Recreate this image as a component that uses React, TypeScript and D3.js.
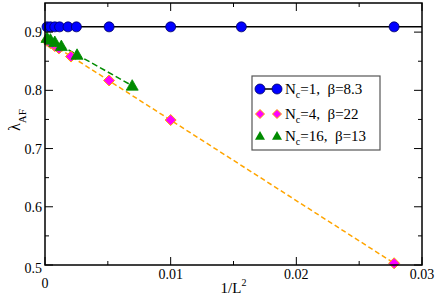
import * as d3 from "d3";

// 1/L^2 values and order parameter for each series
const circleX = [0.00016, 0.00043, 0.00078, 0.00116, 0.00183, 0.0025, 0.0051, 0.01, 0.015625, 0.02778];
const circleY = [0.909, 0.909, 0.909, 0.909, 0.909, 0.909, 0.909, 0.909, 0.909, 0.909];
const diamondX = [0.00016, 0.00043, 0.00078, 0.00111, 0.00207, 0.0051, 0.01, 0.02778];
const diamondY = [0.885, 0.881, 0.876, 0.872, 0.858, 0.817, 0.749, 0.503];
const triangleX = [0.00016, 0.00043, 0.00078, 0.0013, 0.00255, 0.00694];
const triangleY = [0.89, 0.887, 0.883, 0.876, 0.861, 0.808];

// fit lines (x, y pairs)
const fitCircle: [number, number][] = [[0, 0.909], [0.03, 0.909]];
const fitDiamond: [number, number][] = [[0, 0.887], [0.02778, 0.503]];
const fitTriangle: [number, number][] = [[0, 0.892], [0.00694, 0.808]];

const xMajor = [0, 0.01, 0.02, 0.03];
const xMinor = [0.005, 0.015, 0.025];
const yMajor = [0.5, 0.6, 0.7, 0.8, 0.9];
const yMinor = [0.55, 0.65, 0.75, 0.85];

const legendLabels = [
  { n: "1", b: "8.3" },
  { n: "4", b: "22" },
  { n: "16", b: "13" },
];

const W = 436;
const H = 303;
const margin = { top: 3, right: 14, bottom: 38, left: 45 };
const FONT = "Liberation Serif, Times New Roman, Times, Tinos, Nimbus Roman, DejaVu Serif, serif";

export default function App() {
  const x = d3.scaleLinear().domain([0, 0.03]).range([margin.left, W - margin.right]);
  const y = d3.scaleLinear().domain([0.5, 0.95]).range([H - margin.bottom, margin.top]);
  const line = d3.line<[number, number]>().x(d => x(d[0])).y(d => y(d[1]));

  const x0 = x.range()[0], x1 = x.range()[1];
  const y0 = y.range()[0], y1 = y.range()[1];

  const diamond = (cx: number, cy: number, r = 5.5) =>
    `M${cx},${cy - r}L${cx + r},${cy}L${cx},${cy + r}L${cx - r},${cy}Z`;
  const tri = (cx: number, cy: number, r = 6) =>
    `M${cx},${cy - r}L${cx + r},${cy + r * 0.75}L${cx - r},${cy + r * 0.75}Z`;

  const lx = 252, ly = 76, lw = 128, lh = 74;
  const rows = [89, 114, 136];

  return (
    <div style={{ position: "absolute", left: 0, top: 0 }}>
      <svg width={W} height={H} style={{ display: "block", background: "#fff", fontFamily: FONT }}>
        {/* fit lines */}
        <path d={line(fitCircle) || ""} stroke="#000" strokeWidth={1.5} fill="none" />
        <path d={line(fitDiamond) || ""} stroke="#ffa500" strokeWidth={1.5} strokeDasharray="5,3" fill="none" />
        <path d={line(fitTriangle) || ""} stroke="#008b00" strokeWidth={1.5} strokeDasharray="6,3" fill="none" />

        {/* markers */}
        {circleX.map((v, i) => (
          <circle key={"c" + i} cx={x(v)} cy={y(circleY[i])} r={5} fill="#0000ff" stroke="#000060" strokeWidth={0.8} />
        ))}
        {diamondX.map((v, i) => (
          <path key={"d" + i} d={diamond(x(v), y(diamondY[i]))} fill="#ff00ff" stroke="#ffa500" strokeWidth={1} />
        ))}
        {triangleX.map((v, i) => (
          <path key={"t" + i} d={tri(x(v), y(triangleY[i]))} fill="#008b00" stroke="#008b00" strokeWidth={0.8} />
        ))}

        {/* frame */}
        <rect x={x0} y={y1} width={x1 - x0} height={y0 - y1} fill="none" stroke="#000" strokeWidth={1.5} />

        {/* x ticks */}
        {xMajor.map(v => (
          <g key={"xm" + v}>
            <line x1={x(v)} x2={x(v)} y1={y0} y2={y0 - 8} stroke="#000" />
            <line x1={x(v)} x2={x(v)} y1={y1} y2={y1 + 8} stroke="#000" />
            <text x={x(v)} y={v === 0 ? y0 + 23 : y0 + 14} textAnchor="middle" fontSize={14}>
              {v === 0 ? "0" : d3.format(".2f")(v)}
            </text>
          </g>
        ))}
        {xMinor.map(v => (
          <g key={"xn" + v}>
            <line x1={x(v)} x2={x(v)} y1={y0} y2={y0 - 4} stroke="#000" />
            <line x1={x(v)} x2={x(v)} y1={y1} y2={y1 + 4} stroke="#000" />
          </g>
        ))}

        {/* y ticks */}
        {yMajor.map(v => (
          <g key={"ym" + v}>
            <line x1={x0} x2={x0 + 8} y1={y(v)} y2={y(v)} stroke="#000" />
            <line x1={x1} x2={x1 - 8} y1={y(v)} y2={y(v)} stroke="#000" />
            <text x={x0 - 3} y={y(v) + (v === 0.5 ? 8 : 5)} textAnchor="end" fontSize={14}>
              {d3.format(".1f")(v)}
            </text>
          </g>
        ))}
        {yMinor.map(v => (
          <g key={"yn" + v}>
            <line x1={x0} x2={x0 + 4} y1={y(v)} y2={y(v)} stroke="#000" />
            <line x1={x1} x2={x1 - 4} y1={y(v)} y2={y(v)} stroke="#000" />
          </g>
        ))}

        {/* axis titles */}
        <text x={(x0 + x1) / 2} y={y0 + 28} textAnchor="middle" fontSize={15}>
          1/L
          <tspan dy={-7} fontSize={10}>2</tspan>
        </text>
        <text transform={`translate(20,131) rotate(-90)`} fontSize={16}>
          λ
          <tspan dy={6} fontSize={11}>AF</tspan>
        </text>

        {/* legend */}
        <rect x={lx} y={ly} width={lw} height={lh} fill="#fff" stroke="#555" strokeWidth={1.2} />
        <line x1={260} x2={277} y1={rows[0]} y2={rows[0]} stroke="#000" strokeWidth={1.5} />
        {[260, 277].map(cx => (
          <g key={"lg" + cx}>
            <circle cx={cx} cy={rows[0]} r={5} fill="#0000ff" stroke="#000060" strokeWidth={0.8} />
            <path d={diamond(cx, rows[1], 4.5)} fill="#ff00ff" stroke="#ffa500" strokeWidth={1} />
            <path d={tri(cx, rows[2], 5)} fill="#008b00" />
          </g>
        ))}
        {legendLabels.map((l, i) => (
          <text key={"lt" + i} x={285} y={rows[i] + 5} fontSize={15}>
            N
            <tspan dy={4} fontSize={10}>c</tspan>
            <tspan dy={-4}>{`=${l.n},\u00a0\u00a0β=${l.b}`}</tspan>
          </text>
        ))}
      </svg>
    </div>
  );
}
